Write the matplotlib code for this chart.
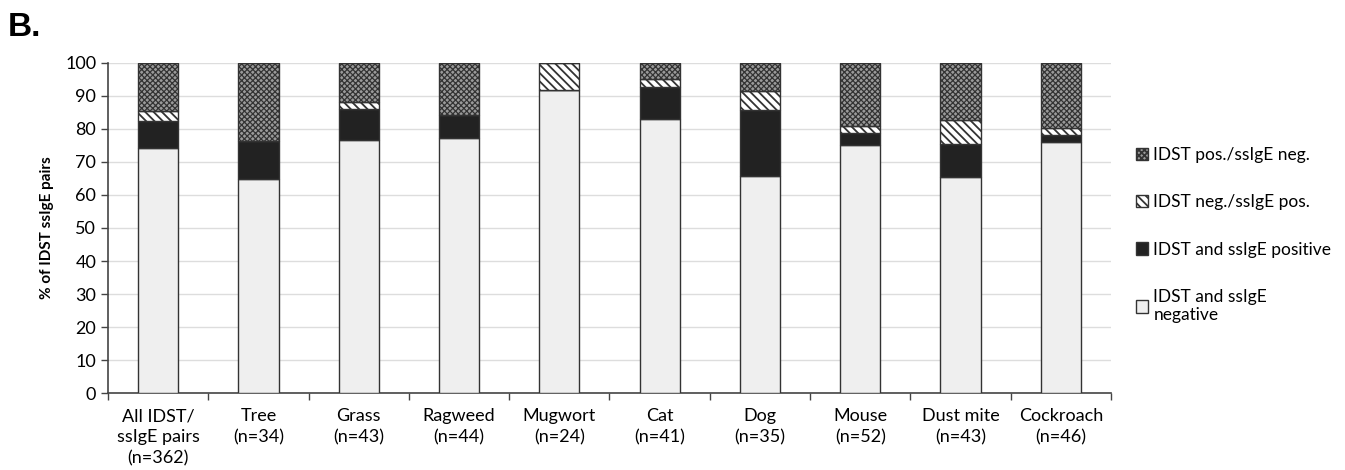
import numpy as np
import matplotlib.pyplot as plt

plt.rcParams['font.family'] = ['Lato', 'DejaVu Sans']
plt.rcParams['hatch.linewidth'] = 1.3

categories = ['All IDST/\nssIgE pairs\n(n=362)', 'Tree\n(n=34)', 'Grass\n(n=43)',
              'Ragweed\n(n=44)', 'Mugwort\n(n=24)', 'Cat\n(n=41)', 'Dog\n(n=35)',
              'Mouse\n(n=52)', 'Dust mite\n(n=43)', 'Cockroach\n(n=46)']

# segment sizes in % (bottom to top)
both_neg = [74.3, 64.7, 76.7, 77.3, 91.7, 82.9, 65.7, 75.0, 65.6, 76.1]
both_pos = [8.1, 11.8, 9.3, 6.8, 0.0, 9.8, 20.0, 3.8, 10.0, 2.2]
idst_neg_sige_pos = [3.0, 0.0, 2.3, 0.0, 8.3, 2.4, 5.7, 2.0, 7.1, 2.1]
idst_pos_sige_neg = [14.6, 23.5, 11.7, 15.9, 0.0, 4.9, 8.6, 19.2, 17.3, 19.6]

series = [
    ('IDST and ssIgE\nnegative', both_neg, '#efefef', None),
    ('IDST and ssIgE positive', both_pos, '#222222', None),
    ('IDST neg./ssIgE pos.', idst_neg_sige_pos, 'white', '\\\\\\\\'),
    ('IDST pos./ssIgE neg.', idst_pos_sige_neg, '#9a9a9a', 'xxxxxx'),
]

fig = plt.figure(figsize=(13.45, 4.70), dpi=100)
ax = fig.add_axes([0.0803, 0.1638, 0.826 - 0.0803, 0.866 - 0.1638])

x = np.arange(len(categories))
bottom = np.zeros(len(categories))
handles = []
for label, vals, color, hatch in series:
    vals = np.array(vals)
    bars = ax.bar(x, vals, width=0.4, bottom=bottom, color=color,
                  edgecolor='#333333', linewidth=1.0, hatch=hatch, label=label,
                  zorder=3)
    if hatch == 'xxxxxx':
        for b in bars:
            try:
                b.set_hatch_linewidth(0.9)
            except AttributeError:
                pass
    handles.append(bars)
    bottom += vals

ax.set_xlim(-0.5, len(categories) - 0.5)
ax.set_ylim(0, 100)
ax.set_yticks(range(0, 101, 10))
ax.yaxis.grid(True, color='#dddddd', linewidth=1.0, zorder=0)
ax.set_axisbelow(True)

ax.set_xticks(x)
ax.set_xticklabels(categories, fontsize=13, linespacing=1.4)
ax.tick_params(axis='x', length=0, pad=11)
ax.set_xticks(np.arange(-0.5, len(categories), 1.0), minor=True)
ax.tick_params(axis='x', which='minor', length=5, color='#444444', width=1)
ax.tick_params(axis='y', labelsize=13, length=5, color='#444444', width=1)

for s in ['top', 'right']:
    ax.spines[s].set_visible(False)
for s in ['left', 'bottom']:
    ax.spines[s].set_color('#444444')
    ax.spines[s].set_linewidth(1.2)

ax.set_ylabel('% of IDST ssIgE pairs', fontsize=11, fontweight='bold', labelpad=8)

leg = fig.legend(handles[::-1], [s[0] for s in series][::-1],
                 loc='upper left', bbox_to_anchor=(1136 / 1345, 1 - 147 / 470),
                 frameon=False, fontsize=12.5, handlelength=0.7, handleheight=0.7,
                 handletextpad=0.3, labelspacing=1.8, borderpad=0, borderaxespad=0)

fig.text(8 / 1345, 1 - 36 / 470, 'B.', fontsize=24, fontweight='bold',
         family=['Liberation Sans', 'DejaVu Sans'])

fig.savefig('out.png', dpi=100)
